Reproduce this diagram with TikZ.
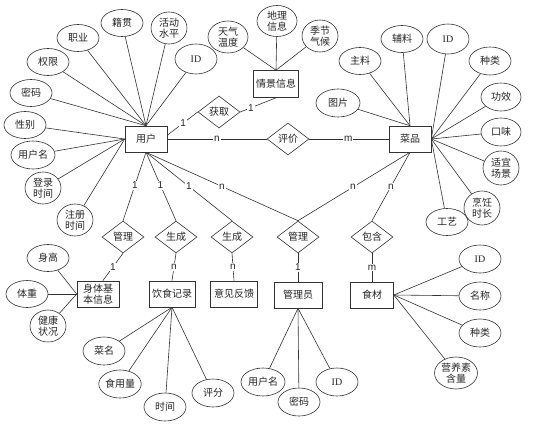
\documentclass[tikz,border=0pt]{standalone}
\usepackage{fontspec}
\setmainfont{Liberation Serif}
\newfontfamily\cjk{Noto Sans CJK SC}
\newfontfamily\lblfont{Liberation Sans}
\usetikzlibrary{shapes.geometric}
\begin{document}
\begin{tikzpicture}[x=1pt,y=-1pt,
  every node/.style={font=\cjk\fontsize{10}{11}\selectfont, text=black!85},
  ent/.style={draw=black!80, line width=0.6pt, rectangle, minimum width=42pt, minimum height=26pt, inner sep=0pt, align=center},
  rel/.style={draw=black!80, line width=0.6pt, diamond, aspect=1.3, minimum width=42pt, minimum height=32pt, inner sep=0pt},
  attr/.style={draw=black!80, line width=0.6pt, ellipse, minimum width=42pt, minimum height=27pt, inner sep=0pt, align=center},
  attrb/.style={attr, minimum width=36pt, minimum height=32pt},
  idf/.style={font=\rmfamily\fontsize{10}{11}\selectfont},
  lbl/.style={fill=white, inner sep=1pt, font=\lblfont\fontsize{10}{11}\selectfont},
  ln/.style={draw=black!80, line width=0.6pt}]
\useasboundingbox (0,0) rectangle (535,425);

% ---- user
\node[ent] (U) at (146,139) {用户};
\node[attr] (jg) at (122,23) {籍贯};
\node[attrb] (hd) at (169,28) {活动\\水平};
\node[attr] (zy) at (78,38) {职业};
\node[attr] (qx) at (48,62) {权限};
\node[attr, minimum height=30pt, idf] (uid) at (196,59) {ID};
\node[attr] (mm) at (31,93) {密码};
\node[attr] (xb) at (25,125) {性别};
\node[attr, minimum width=44pt, minimum height=28pt] (yhm) at (33,155) {用户名};
\node[attrb] (dl) at (43,188) {登录\\时间};
\node[attrb] (zc) at (75,220) {注册\\时间};
\foreach \a in {jg,hd,zy,qx,uid,mm} \draw[ln] (\a) -- (U.north);
\foreach \a in {xb,yhm,dl,zc} \draw[ln] (\a) -- (U.west);

% ---- scene info
\node[ent, minimum width=45pt, minimum height=27pt] (S) at (276,84) {情景信息};
\node[attrb, minimum width=40pt] (tq) at (228,37) {天气\\温度};
\node[attrb, minimum width=40pt, minimum height=31pt] (dlxx) at (277,21) {地理\\信息};
\node[attrb] (jj) at (320,36) {季节\\气候};
\foreach \a in {tq,dlxx,jj} \draw[ln] (\a) -- (S.north);

\node[rel] (hq) at (219,112) {获取};
\draw[ln] (U.10) -- node[lbl, pos=0.52]{1} (hq.west);
\draw[ln] (hq.east) -- node[lbl, pos=0.3]{1} (S.south);

% ---- dish
\node[rel] (pj) at (288,139) {评价};
\node[ent] (C) at (410,139) {菜品};
\draw[ln] (U.east) -- node[lbl]{n} (pj.west);
\draw[ln] (pj.east) -- node[lbl, pos=0.49]{m} (C.west);

\node[attr] (zl) at (360,61) {主料};
\node[attr] (fl) at (402,39) {辅料};
\node[attr, minimum height=30pt, idf] (cid) at (448,39) {ID};
\node[attr, minimum height=28pt] (czl) at (490,61) {种类};
\node[attr, minimum width=44pt, minimum height=28pt] (tp) at (338,103) {图片};
\node[attr, minimum width=40pt, minimum height=28pt] (gx) at (501,97) {功效};
\node[attr, minimum width=40pt, minimum height=28pt] (kw) at (501,132) {口味};
\node[attrb, minimum height=34pt] (sy) at (501,168) {适宜\\场景};
\node[attrb, minimum height=34pt] (pr) at (482,208) {烹饪\\时长};
\node[attr] (gy) at (447,222) {工艺};
\foreach \a in {zl,fl,tp} \draw[ln] (\a) -- (C.north);
\foreach \a in {cid,czl,gx,kw,sy,pr,gy} \draw[ln] (\a) -- (C.east);

% ---- relations row
\node[rel] (gl1) at (123,237) {管理};
\node[rel] (sc1) at (176,237) {生成};
\node[rel] (sc2) at (232,237) {生成};
\node[rel] (gl2) at (298,237) {管理};
\node[rel] (bh) at (372,237) {包含};
\draw[ln] (U.south) -- node[lbl, pos=0.48]{1} (gl1.north);
\draw[ln] (U.south) -- node[lbl, pos=0.48]{1} (sc1.north);
\draw[ln] (U.south) -- node[lbl, pos=0.5]{1} (sc2.north);
\draw[ln] (U.south) -- node[lbl, pos=0.5]{n} (gl2.north);
\draw[ln] (C.south) -- node[lbl, pos=0.51]{n} (gl2.north);
\draw[ln] (C.south) -- node[lbl, pos=0.5]{n} (bh.north);

% ---- lower entities
\node[ent] (st) at (98,294) {身体基\\本信息};
\node[ent, minimum width=46pt] (ys) at (172,294) {饮食记录};
\node[ent, minimum width=47pt] (yj) at (234,294) {意见反馈};
\node[ent, minimum width=48pt] (gly) at (298,295) {管理员};
\node[ent, minimum width=43pt] (sc) at (372,295) {食材};
\draw[ln] (gl1.south) -- node[lbl]{1} (st.70);
\draw[ln] (sc1.south) -- node[lbl]{n} (ys.north);
\draw[ln] (sc2.south) -- node[lbl]{n} (yj.north);
\draw[ln] (gl2.south) -- node[lbl]{1} (gly.north);
\draw[ln] (bh.south) -- node[lbl]{m} (sc.north);

% body info attributes
\node[attr] (sg) at (48,258) {身高};
\node[attr] (tz) at (27,294) {体重};
\node[attrb] (jk) at (48,326) {健康\\状况};
\foreach \a in {sg,tz,jk} \draw[ln] (\a) -- (st.west);

% diet record attributes
\node[attr, minimum height=28pt] (cm) at (104,351) {菜名};
\node[attr, minimum height=28pt] (syl) at (120,384) {食用量};
\node[attr, minimum height=28pt] (sj) at (165,407) {时间};
\node[attr, minimum height=28pt] (pf) at (213,393) {评分};
\foreach \a in {cm,syl,sj,pf} \draw[ln] (\a) -- (ys.south);

% admin attributes
\node[attr, minimum width=44pt, minimum height=28pt] (ayhm) at (263,382) {用户名};
\node[attr, minimum height=28pt] (amm) at (299,402) {密码};
\node[attr, minimum height=28pt, idf] (aid) at (337,382) {ID};
\foreach \a in {ayhm,amm,aid} \draw[ln] (\a) -- (gly.south);

% food attributes
\node[attr, minimum height=28pt, idf] (fid) at (480,259) {ID};
\node[attr, minimum height=28pt] (mc) at (480,296) {名称};
\node[attr, minimum height=28pt] (fzl) at (480,333) {种类};
\node[attr, minimum width=43pt, minimum height=32pt] (yy) at (456,373) {营养素\\含量};
\foreach \a in {fid,mc,fzl,yy} \draw[ln] (\a) -- (sc.east);
\end{tikzpicture}
\end{document}
